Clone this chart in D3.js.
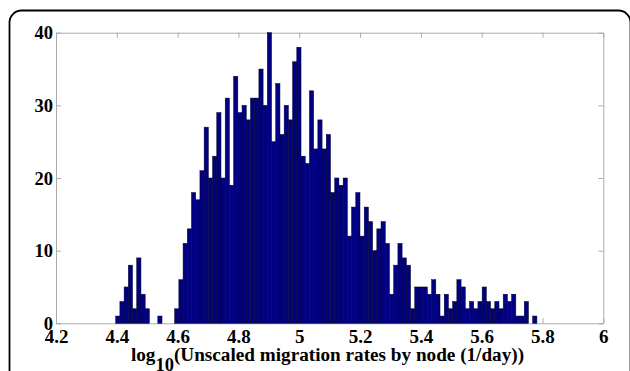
<!DOCTYPE html>
<html>
<head>
<meta charset="utf-8">
<script src="https://cdn.jsdelivr.net/npm/d3@7"></script>
<style>
  body { margin: 0; background: #fff; }
  svg { display: block; }
  .tick text, .xlabel { font-family: "Liberation Serif", "Times New Roman", serif; font-weight: bold; fill: #000; }
</style>
</head>
<body>
<svg id="chart" width="630" height="371"></svg>
<script>
// Histogram counts, 100 equal-width bins between the smallest and largest value
const counts = [
  1, 3, 5, 8, 2, 9, 4, 2, 0, 0,
  1, 0, 0, 0, 2, 6, 11, 13, 18, 17,
  21, 27, 20, 23, 29, 20, 31, 19, 34, 29,
  30, 28, 31, 31, 35, 30, 40, 25, 33, 26,
  30, 28, 36, 38, 23, 22, 32, 24, 28, 24,
  26, 18, 20, 19, 20, 12, 16, 18, 12, 16,
  14, 10, 13, 14, 11, 4, 8, 11, 9, 8,
  2, 5, 5, 5, 4, 6, 4, 1, 4, 2,
  3, 6, 5, 2, 3, 2, 3, 5, 3, 2,
  3, 2, 4, 3, 4, 1, 1, 3, 0, 1
];
const dataMin = 4.3963;
const dataMax = 5.7816;

const xDomain = [4.2, 6];
const yDomain = [0, 40];
const xTickValues = [4.2, 4.4, 4.6, 4.8, 5, 5.2, 5.4, 5.6, 5.8, 6];
const xTickLabels = ["4.2", "4.4", "4.6", "4.8", "5", "5.2", "5.4", "5.6", "5.8", "6"];
const yTickValues = [0, 10, 20, 30, 40];
const yTickLabels = ["0", "10", "20", "30", "40"];
const xLabelMain = "log";
const xLabelSub = "10";
const xLabelRest = "(Unscaled migration rates by node (1/day))";

const svg = d3.select("#chart");

// Plot box
const plotLeft = 56, plotRight = 603.3, plotTop = 32.7, plotBottom = 323.3;
const x = d3.scaleLinear().domain(xDomain).range([plotLeft, plotRight]);
const y = d3.scaleLinear().domain(yDomain).range([plotBottom, plotTop]);

// Rounded outer frame
svg.append("rect")
  .attr("x", 9.5).attr("y", 10.5)
  .attr("width", 621).attr("height", 420)
  .attr("rx", 12).attr("ry", 12)
  .attr("fill", "none").attr("stroke", "#000").attr("stroke-width", 1.8);

const axisColor = "#ababab";
const tickLen = 5;

function styleAxis(g) {
  g.selectAll(".domain").attr("stroke", axisColor).attr("stroke-width", 1);
  g.selectAll(".tick line").attr("stroke", axisColor).attr("stroke-width", 1);
}

const xFmt = d => xTickLabels[xTickValues.indexOf(d)];
const yFmt = d => yTickLabels[yTickValues.indexOf(d)];

// Bottom axis with labels, ticks pointing inward
const gB = svg.append("g").attr("transform", `translate(0,${plotBottom})`)
  .call(d3.axisBottom(x).tickValues(xTickValues).tickFormat(xFmt).tickSizeInner(-tickLen).tickSizeOuter(0));
gB.selectAll(".tick text").attr("y", 19.5).attr("dy", 0).attr("font-size", 19);
styleAxis(gB);

// Top axis, ticks only
const gT = svg.append("g").attr("transform", `translate(0,${plotTop})`)
  .call(d3.axisTop(x).tickValues(xTickValues).tickFormat("").tickSizeInner(-tickLen).tickSizeOuter(0));
styleAxis(gT);

// Left axis with labels
const gL = svg.append("g").attr("transform", `translate(${plotLeft},0)`)
  .call(d3.axisLeft(y).tickValues(yTickValues).tickFormat(yFmt).tickSizeInner(-tickLen).tickSizeOuter(0));
gL.selectAll(".tick text").attr("x", -3).attr("dy", "0.33em").attr("font-size", 18.5);
styleAxis(gL);

// Right axis, ticks only
const gR = svg.append("g").attr("transform", `translate(${plotRight},0)`)
  .call(d3.axisRight(y).tickValues(yTickValues).tickFormat("").tickSizeInner(-tickLen).tickSizeOuter(0));
styleAxis(gR);

// Histogram bars
const binWidth = (dataMax - dataMin) / counts.length;
const bins = counts.map((n, i) => ({ x0: dataMin + i * binWidth, x1: dataMin + (i + 1) * binWidth, n }));

svg.append("g")
  .selectAll("rect")
  .data(bins.filter(b => b.n > 0))
  .join("rect")
  .attr("x", d => x(d.x0))
  .attr("width", d => x(d.x1) - x(d.x0))
  .attr("y", d => y(d.n))
  .attr("height", d => y(0) - y(d.n))
  .attr("fill", "#000080")
  .attr("stroke", "#00002e")
  .attr("stroke-width", 0.5);

// Axis title with subscript
const label = svg.append("text")
  .attr("class", "xlabel")
  .attr("x", 327.5)
  .attr("y", 360.5)
  .attr("text-anchor", "middle")
  .attr("font-size", 19.2);
label.append("tspan").text(xLabelMain);
label.append("tspan").attr("dy", 10).attr("font-size", 18.5).text(xLabelSub);
label.append("tspan").attr("dy", -10).text(xLabelRest);
</script>
</body>
</html>
